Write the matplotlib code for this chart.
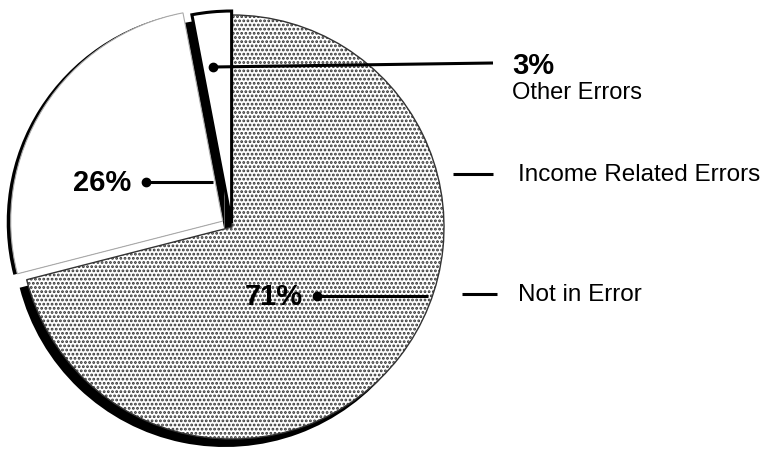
import matplotlib
matplotlib.use("Agg")
import matplotlib.pyplot as plt

# --- data ---
slice_names = ['Not in Error', 'Income Related Errors', 'Other Errors']
shares = [71, 26, 3]
pct_text = ['71%', '26%', '3%']
explode = [0, 11, 4]   # pulled-out distance in pixels

W, H = 774, 477
plt.rcParams['font.family'] = ['Liberation Sans', 'DejaVu Sans']
plt.rcParams['hatch.linewidth'] = 1.35
plt.rcParams['hatch.color'] = '#111111'

fig = plt.figure(figsize=(W / 100, H / 100), dpi=100)
ax = fig.add_axes([0, 0, 1, 1])

cx, cy = 232, H - 228   # pie centre (pixels, y up)
r = 212

# black "shadow" under the pie (offset down-left)
ax.pie(shares, colors=['black', 'none', 'black'], startangle=90, counterclock=False,
       explode=explode, center=(cx - 7, cy - 8), radius=r,
       wedgeprops=dict(linewidth=0), frame=True)
ax.pie(shares, colors=['none', 'black', 'none'], startangle=90, counterclock=False,
       explode=explode, center=(cx - 4, cy - 1), radius=r,
       wedgeprops=dict(linewidth=0), frame=True)

# the pie itself
wedges, _ = ax.pie(shares, colors=['white', 'white', 'white'], startangle=90,
                   counterclock=False, explode=explode, center=(cx, cy), radius=r,
                   frame=True)
wedges[0].set_hatch('....')
wedges[0].set_edgecolor('#333333')
wedges[0].set_linewidth(1.0)
wedges[1].set_edgecolor('#aaaaaa')
wedges[1].set_linewidth(0.8)
wedges[2].set_edgecolor('black')
wedges[2].set_linewidth(2.2)

ax.set_xlim(0, W)
ax.set_ylim(0, H)
ax.set_aspect('equal')
ax.axis('off')


def Y(py):
    return H - py


line_kw = dict(color='black', lw=2.2, solid_capstyle='butt')
dot_kw = dict(marker='o', ms=6, color='black')

# 3% Other Errors
ax.plot([213, 493], [Y(68), Y(64)], **line_kw)
ax.plot(213, Y(68), **dot_kw)
ax.text(512, Y(66), pct_text[2], fontsize=21, fontweight='bold', va='center', ha='left')
ax.text(512, Y(93), slice_names[2], fontsize=17, va='center', ha='left')

# Income Related Errors
ax.plot([453, 493], [Y(175), Y(175)], **line_kw)
ax.text(518, Y(175), slice_names[1], fontsize=17.5, va='center', ha='left')

# 26%
ax.text(131, Y(183), pct_text[1], fontsize=21, fontweight='bold', va='center', ha='right')
ax.plot([146, 213], [Y(183), Y(183)], **line_kw)
ax.plot(146, Y(183), **dot_kw)

# 71% Not in Error
ax.text(245, Y(297), pct_text[0], fontsize=21, fontweight='bold', va='center', ha='left')
ax.plot([317, 428], [Y(297), Y(297)], **line_kw)
ax.plot(317, Y(297), **dot_kw)
ax.plot([462, 497], [Y(295), Y(295)], **line_kw)
ax.text(518, Y(295), slice_names[0], fontsize=17.5, va='center', ha='left')

fig.savefig('out.png', dpi=100, facecolor='white')
